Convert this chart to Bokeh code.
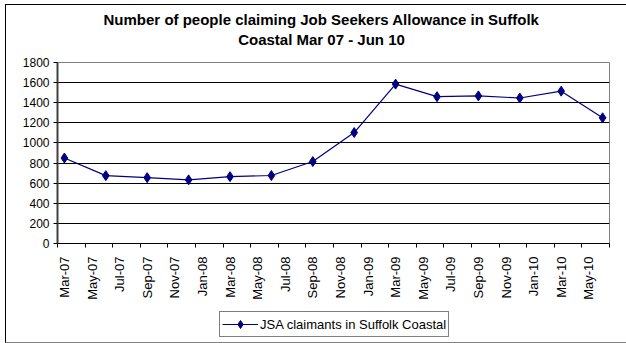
import numpy as np
from bokeh.plotting import figure
from bokeh.layouts import column
from bokeh.models import (ColumnDataSource, FixedTicker, Range1d, Legend, LegendItem, Label,
                          InlineStyleSheet)
from bokeh.embed import file_html
from bokeh.resources import INLINE

# ---- data ----
months = ["Mar-07", "Jun-07", "Sep-07", "Dec-07", "Mar-08", "Jun-08", "Sep-08",
          "Dec-08", "Mar-09", "Jun-09", "Sep-09", "Dec-09", "Mar-10", "Jun-10"]
claimants = [850, 675, 655, 633, 665, 676, 815, 1103, 1585, 1460, 1468, 1447, 1515, 1250]
tick_labels = ["Mar-07", "May-07", "Jul-07", "Sep-07", "Nov-07", "Jan-08", "Mar-08",
               "May-08", "Jul-08", "Sep-08", "Nov-08", "Jan-09", "Mar-09", "May-09",
               "Jul-09", "Sep-09", "Nov-09", "Jan-10", "Mar-10", "May-10"]
y_ticks = [0, 200, 400, 600, 800, 1000, 1200, 1400, 1600, 1800]
series_name = "JSA claimants in Suffolk Coastal"
title_line1 = "Number of people claiming Job Seekers Allowance in Suffolk"
title_line2 = "Coastal Mar 07 - Jun 10"

MON = {"Jan": 1, "Feb": 2, "Mar": 3, "Apr": 4, "May": 5, "Jun": 6,
       "Jul": 7, "Aug": 8, "Sep": 9, "Oct": 10, "Nov": 11, "Dec": 12}


def month_index(lbl):
    m, y = lbl.split("-")
    return (int(y) - 7) * 12 + MON[m] - 3


x_vals = [month_index(m) for m in months]
label_pos = [month_index(t) for t in tick_labels]
slot_edges = [p - 0.5 for p in label_pos] + [label_pos[-1] + 1.5]

source = ColumnDataSource(dict(x=x_vals, y=claimants, month=months))

FONT = "Liberation Sans"
NAVY = "#000080"
W = 626
H_TITLE, H_MAIN, H_LEG = 54, 251, 38
FRAME_LEFT = 57  # frames of the stacked figures are aligned to the chart's frame


def border_css(top, bottom):
    css = ":host::after { content: ''; position: absolute; left: 5px; right: 0px; " \
          "top: %dpx; bottom: 0px; box-sizing: border-box; pointer-events: none; " \
          "border-left: 1px solid #000000;" % top
    if top:
        css += " border-top: 1px solid #000000;"
    if bottom:
        css += " border-bottom: 1px solid #808080;"
    return InlineStyleSheet(css=css + " }")


def blank_fig(h, top, bottom):
    f = figure(width=W, height=h, output_backend="svg", toolbar_location=None,
               x_range=Range1d(0, 1), y_range=Range1d(0, 1),
               x_axis_location=None, y_axis_location=None,
               min_border=0, outline_line_color=None,
               background_fill_color="white", border_fill_color="white",
               stylesheets=[border_css(top, bottom)])
    f.grid.visible = False
    return f


# ---- title block ----
tf = blank_fig(H_TITLE, 4, False)
for txt, yb in [(title_line1, 35), (title_line2, 15)]:
    tf.add_layout(Label(x=321 - FRAME_LEFT, y=yb, x_units="screen", y_units="screen",
                        text=txt, text_align="center", text_baseline="alphabetic",
                        text_font=FONT, text_font_size="15px", text_font_style="bold",
                        text_color="black"))

# ---- main chart ----
p = figure(width=W, height=H_MAIN, output_backend="svg", toolbar_location=None,
           x_range=Range1d(slot_edges[0], slot_edges[-1]), y_range=Range1d(0, 1800),
           min_border_left=FRAME_LEFT, min_border_right=17, min_border_top=8,
           min_border_bottom=62, background_fill_color="white",
           border_fill_color="white", outline_line_color="#808080",
           stylesheets=[border_css(0, False)])

yax = p.yaxis[0]
yax.ticker = FixedTicker(ticks=y_ticks)
yax.major_tick_out = 4
yax.major_tick_in = 0
yax.minor_tick_out = 0
yax.minor_tick_in = 0
yax.axis_line_color = "#404040"
yax.axis_line_width = 2
yax.major_tick_line_color = "black"
yax.major_label_text_font = FONT
yax.major_label_text_font_size = "12px"
yax.major_label_text_color = "black"
yax.major_label_standoff = 4

xax = p.xaxis[0]
xax.ticker = FixedTicker(ticks=label_pos, minor_ticks=slot_edges)
xax.major_label_overrides = {pos: lab for pos, lab in zip(label_pos, tick_labels)}
xax.major_label_orientation = np.pi / 2
xax.major_tick_out = 0
xax.major_tick_in = 0
xax.minor_tick_out = 4
xax.minor_tick_in = 0
xax.minor_tick_line_color = "black"
xax.axis_line_color = "black"
xax.major_label_text_font = FONT
xax.major_label_text_font_size = "13px"
xax.major_label_text_color = "black"
xax.major_label_standoff = 9

p.xgrid.grid_line_color = None
p.ygrid.ticker = FixedTicker(ticks=y_ticks)
p.ygrid.grid_line_color = "black"
p.ygrid.grid_line_width = 1

p.line("x", "y", source=source, line_color=NAVY, line_width=1.2)
p.scatter("x", "y", source=source, marker="diamond", size=10,
          fill_color=NAVY, line_color=NAVY)

# ---- legend block (same series, drawn outside this strip's visible range) ----
lf = blank_fig(H_LEG, 0, True)
lg_line = lf.line("x", "y", source=source, line_color=NAVY, line_width=1.2)
lg_mark = lf.scatter("x", "y", source=source, marker="diamond", size=10,
                     fill_color=NAVY, line_color=NAVY)
legend = Legend(items=[LegendItem(label=series_name, renderers=[lg_line, lg_mark])],
                location=(219 - FRAME_LEFT, 6), orientation="horizontal",
                border_line_color="black", border_line_width=1,
                background_fill_color="white", background_fill_alpha=1,
                padding=2, margin=0, spacing=0, glyph_width=36, glyph_height=20,
                label_standoff=2, label_text_font=FONT,
                label_text_font_size="13px", label_text_color="black")
lf.add_layout(legend, "center")

layout = column(tf, p, lf, spacing=0)
open("out.html", "w").write(file_html(layout, INLINE))
